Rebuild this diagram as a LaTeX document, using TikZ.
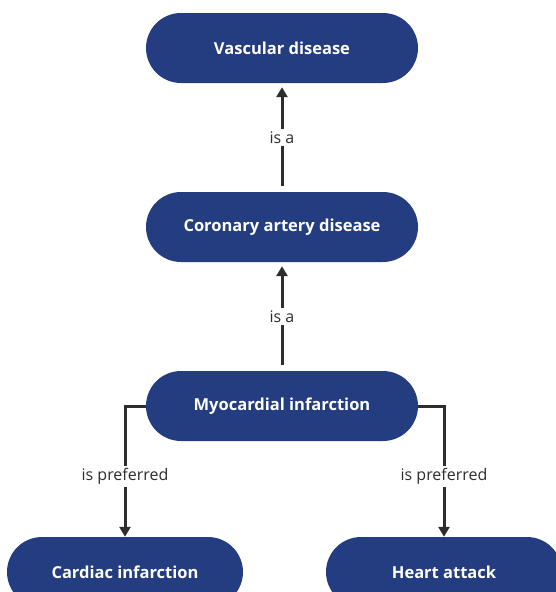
\documentclass[tikz,border=0pt]{standalone}
\usepackage{fontspec}
\setmainfont{Open Sans}
\usetikzlibrary{arrows.meta}

\definecolor{termblue}{RGB}{36,61,128}
\definecolor{linkgray}{RGB}{45,45,45}

\begin{document}
\begin{tikzpicture}[x=1pt, y=-1pt,
    term/.style={rectangle, rounded corners=35pt, fill=termblue, text=white,
      font=\fontsize{16.5}{19}\selectfont\bfseries, minimum height=70pt, inner sep=0pt},
    upper/.style={term, minimum width=272pt},
    lower/.style={term, minimum width=236pt},
    link/.style={draw=linkgray, line width=3pt, -{Triangle[width=11pt,length=10pt]}},
    rel/.style={fill=white, text=linkgray, font=\fontsize{16}{19}\selectfont, inner sep=2.5pt}]

    \useasboundingbox (0,0) rectangle (556,592);

    % Define terms with coordinates
    \node[upper] (vascular) at (282,48) {Vascular disease};
    \node[upper] (coronary) at (282,227) {Coronary artery disease};
    \node[upper] (myocardial) at (282,406) {Myocardial infarction};
    \node[lower] (cardiac) at (125,572) {Cardiac infarction};
    \node[lower] (heart) at (444,572) {Heart attack};
    % Draw relations between the terms
    \draw[link, shorten <=6pt, shorten >=4pt] (coronary.north) -- node[rel] {is a} (vascular.south);
    \draw[link, shorten <=6pt, shorten >=4pt] (myocardial.north) -- node[rel] {is a} (coronary.south);
    \draw[link] (myocardial.west) -| node[rel, pos=0.77] {is preferred} (cardiac.north);
    \draw[link] (myocardial.east) -| node[rel, pos=0.77] {is preferred} (heart.north);
\end{tikzpicture}
\end{document}
